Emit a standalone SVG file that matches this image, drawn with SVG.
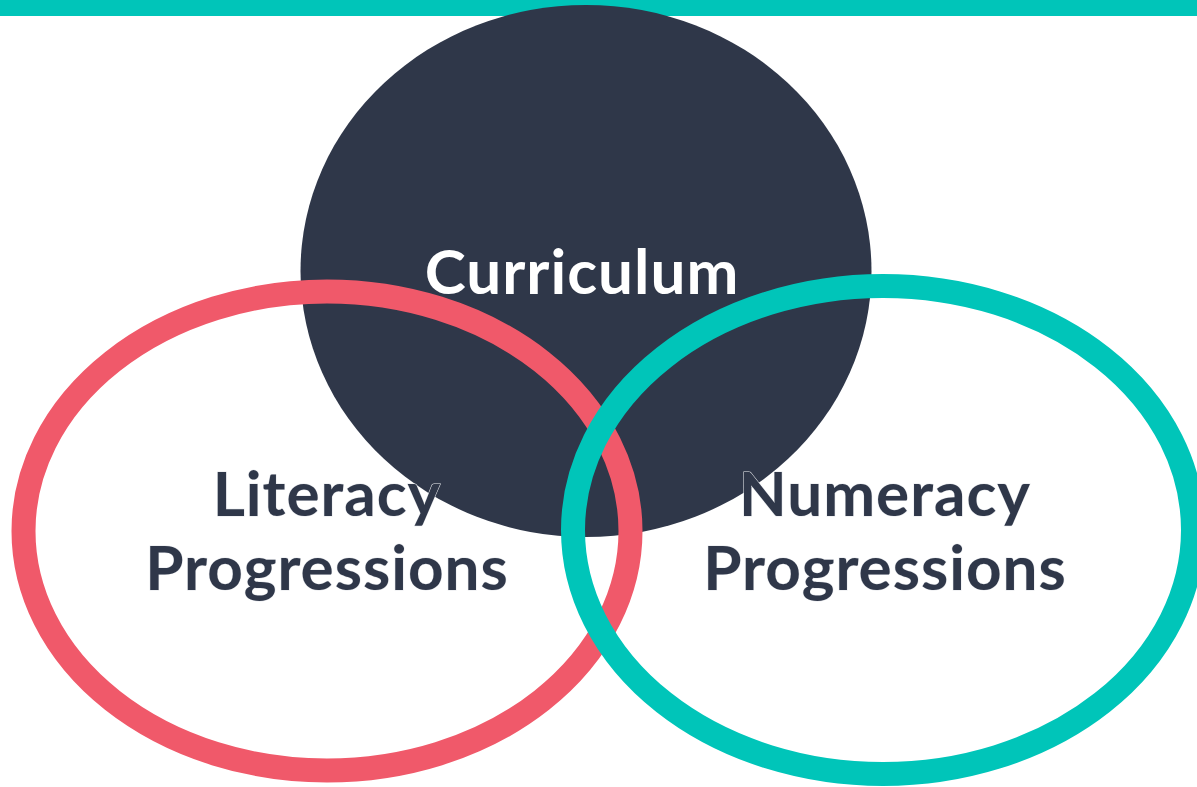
<svg xmlns="http://www.w3.org/2000/svg" width="1197" height="787" viewBox="0 0 1197 787">
  <style>
    .label { font-family: "Lato", "Liberation Sans", sans-serif; font-weight: 700; font-size: 62px; letter-spacing: 1px; text-anchor: middle; }
    .dark { fill: #2f3749; stroke: #e6e8ec; stroke-width: 1; paint-order: stroke; }
    .light { fill: #ffffff; }
    .ring { fill: none; stroke-width: 24; }
  </style>
  <rect width="1197" height="787" fill="#ffffff"/>
  <!-- header band -->
  <rect x="0" y="0" width="1197" height="16" fill="#00c5b9"/>

  <g id="curriculum">
    <ellipse cx="586" cy="271" rx="285.5" ry="266" fill="#2f3749"/>
    <text class="label light" x="582" y="294">Curriculum</text>
  </g>

  <g id="literacy">
    <ellipse class="ring" cx="327" cy="531" rx="303.5" ry="239.5" stroke="#f0596a"/>
    <text class="label dark" x="327" y="516">Literacy</text>
    <text class="label dark" x="327" y="590">Progressions</text>
  </g>

  <g id="numeracy">
    <ellipse class="ring" cx="883" cy="530" rx="310" ry="244" stroke="#00c5b9"/>
    <text class="label dark" x="885" y="516">Numeracy</text>
    <text class="label dark" x="885" y="590">Progressions</text>
  </g>

  <g id="connectors"/>
</svg>
